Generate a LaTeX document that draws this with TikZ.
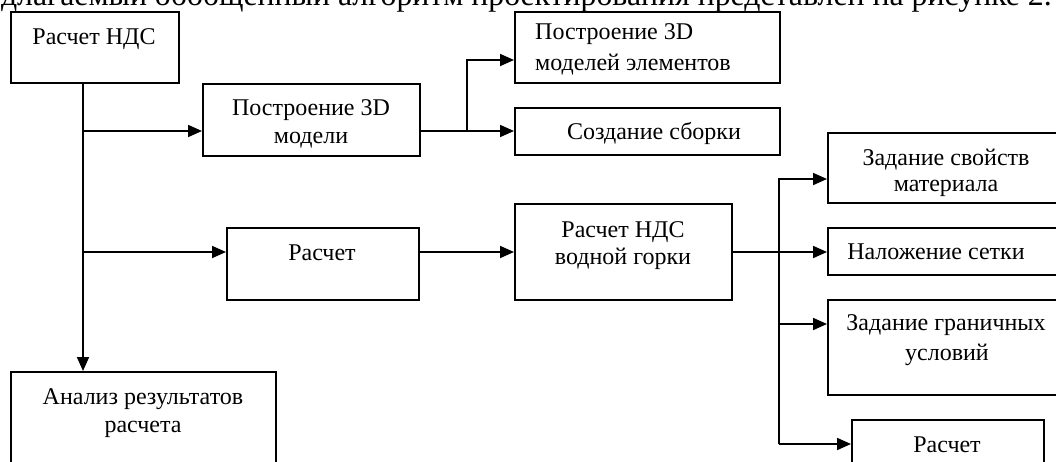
\documentclass[tikz,border=0pt]{standalone}
\usepackage{fontspec}
\setmainfont{Liberation Serif}
\usetikzlibrary{arrows.meta}

\tikzset{
  blk/.style={draw, line width=2.2pt, inner sep=0pt, anchor=north west, minimum width=#1},
  blk/.default=100pt,
  txt/.style={inner sep=0pt, anchor=base, font=\fontsize{24}{29}\selectfont},
  txtl/.style={txt, anchor=base west},
  ln/.style={line width=1.8pt, line join=miter},
  arr/.style={ln, -{Triangle[length=14pt, width=12pt]}},
}

\begin{document}
\begin{tikzpicture}[x=1pt, y=-1pt]
  \useasboundingbox (0,0) rectangle (1056,461);
  \clip (0,0) rectangle (1056,461);
  \fill[white] (0,0) rectangle (1056,461);

  % running text of the page above the scheme
  \node[inner sep=0pt, anchor=base east, font=\fontsize{31.8}{36}\selectfont] (para) at (1052,5.5)
    {Предлагаемый обобщенный алгоритм проектирования представлен на рисунке 2.};

  % blocks
  \node[blk=168pt, minimum height=71pt]  (A) at (10,11)   {};
  \node[blk=217pt, minimum height=72pt]  (B) at (202,83)  {};
  \node[blk=265pt, minimum height=71pt]  (C) at (514,11)  {};
  \node[blk=265pt, minimum height=47pt]  (D) at (514,107) {};
  \node[blk=192pt, minimum height=72pt]  (E) at (226,227) {};
  \node[blk=217pt, minimum height=96pt]  (F) at (514,203) {};
  \node[blk=240pt, minimum height=70pt]  (G) at (827,132) {};
  \node[blk=240pt, minimum height=47pt]  (H) at (827,227) {};
  \node[blk=240pt, minimum height=95pt]  (I) at (827,299) {};
  \node[blk=192pt, minimum height=70pt]  (J) at (851,419) {};
  \node[blk=265pt, minimum height=110pt] (K) at (10,371)  {};

  % block captions
  \node[txt]  (tA)  at (94,44)   {Расчет НДС};
  \node[txt]  (tB1) at (311,115) {Построение 3D};
  \node[txt]  (tB2) at (311,143) {модели};
  \node[txtl] (tC1) at (535,39)  {Построение 3D};
  \node[txtl] (tC2) at (535,70)  {моделей элементов};
  \node[txt]  (tD)  at (654,139) {Создание сборки};
  \node[txt]  (tE)  at (322,260) {Расчет};
  \node[txt]  (tF1) at (623,237) {Расчет НДС};
  \node[txt]  (tF2) at (623,264) {водной горки};
  \node[txt]  (tG1) at (946,165) {Задание свойств};
  \node[txt]  (tG2) at (946,191) {материала};
  \node[txt]  (tH)  at (936,259) {Наложение сетки};
  \node[txt]  (tI1) at (946,330) {Задание граничных};
  \node[txt]  (tI2) at (947,360) {условий};
  \node[txt]  (tJ)  at (947,452) {Расчет};
  \node[txt]  (tK1) at (143,404) {Анализ результатов};
  \node[txt]  (tK2) at (143,432) {расчета};

  % connector tracks
  \coordinate (sx) at (83,0);
  \coordinate (jx) at (467,0);
  \coordinate (kx) at (779,0);
  \coordinate (r0) at (0,60);
  \coordinate (r1) at (0,131);
  \coordinate (r2) at (0,252);
  \coordinate (rG) at (0,179);
  \coordinate (rI) at (0,324);
  \coordinate (rJ) at (0,444);

  % main spine
  \draw[arr] (A.south -| sx) -- (K.north -| sx);
  \draw[arr] (sx |- r1) -- (B.west |- r1);
  \draw[arr] (sx |- r2) -- (E.west |- r2);

  % 3D model branch
  \draw[arr] (B.east |- r1) -- (D.west |- r1);
  \draw[arr] (jx |- r1) -- (jx |- r0) -- (C.west |- r0);

  % calculation chain
  \draw[arr] (E.east |- r2) -- (F.west |- r2);
  \draw[arr] (F.east |- r2) -- (H.west |- r2);
  \draw[arr] (kx |- rJ) -- (kx |- rG) -- (G.west |- rG);
  \draw[arr] (kx |- rI) -- (I.west |- rI);
  \draw[arr] (kx |- rJ) -- (J.west |- rJ);
\end{tikzpicture}
\end{document}
